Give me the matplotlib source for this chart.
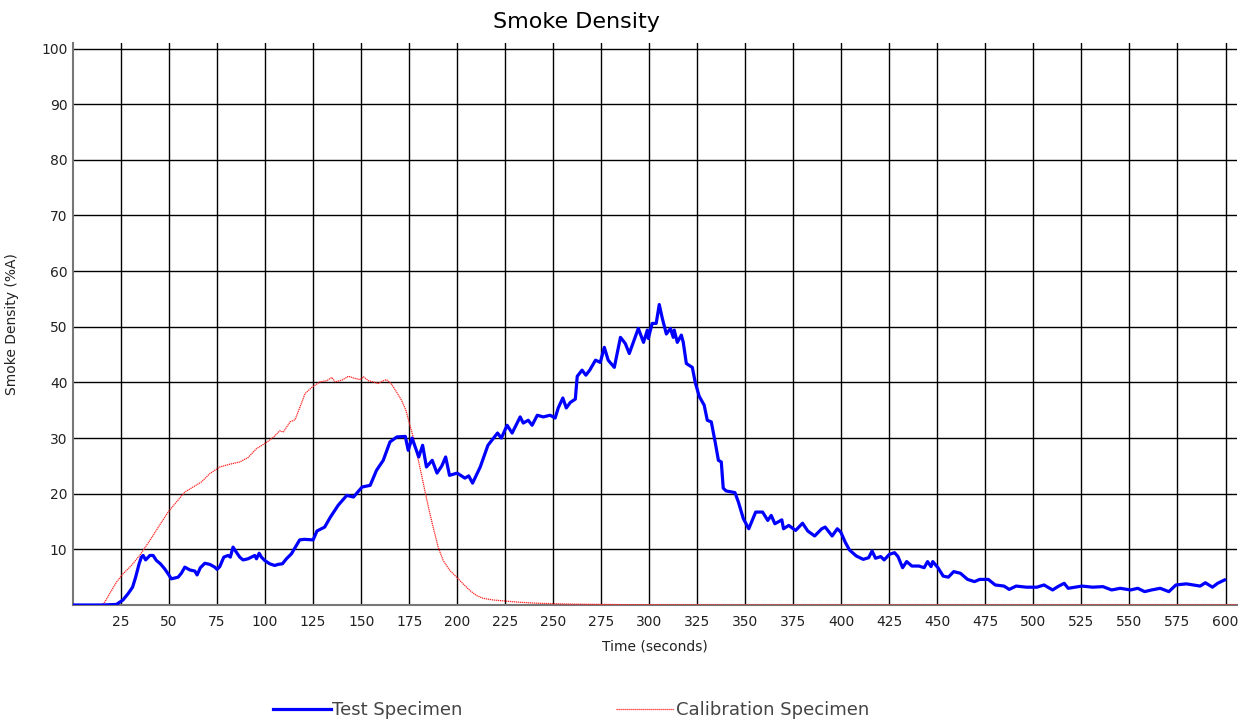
import matplotlib
matplotlib.use('Agg')
import matplotlib.pyplot as plt

# Test specimen curve (time in s, smoke density %A)
test_t = [0, 15.6, 22.6, 26, 28.6, 31, 32.6, 34.4, 35.6, 36.5, 37.8, 40, 41.7, 43.4, 45.5, 47.7,
          49.5, 51.2, 54.7, 56.4, 58.2, 60.8, 63.4, 64.6, 66.3, 68.6, 71.2, 73.8, 75, 76.4, 78.5,
          80.7, 81.9, 83.3, 85, 86.8, 88.5, 91.1, 92.9, 94.6, 95.5, 96.9, 98.1, 99.8, 102.4, 105,
          106.8, 109, 111.1, 113.7, 118, 120.4, 125, 127, 131, 134, 138, 142.5, 146, 150.5, 154.7,
          158, 161.5, 165, 168.6, 173, 174.5, 176.5, 180, 182, 184, 187, 189.5, 192, 194, 196, 200,
          204, 206, 208, 212, 216, 221, 223, 226, 228.6, 232.8, 234.4, 237, 239, 241.7, 244.8,
          248.4, 251, 252.6, 255, 256.8, 258.9, 261.5, 262.5, 265, 267, 269, 272, 274.5, 276.6,
          278.6, 281.8, 285, 287.5, 289.6, 291.7, 294.3, 297, 299, 299.5, 301.5, 303.6, 305.2,
          306.8, 308.9, 311, 312.5, 313, 314.6, 316.7, 317.7, 319.3, 322.4, 324, 326, 328.6, 330.2,
          332.3, 334.4, 336, 337.5, 338.5, 340, 344.6, 346.4, 349, 351.8, 353.6, 355.4, 359, 361.7,
          363.5, 365.4, 369, 369.9, 372.6, 376.2, 379.8, 382.5, 386.1, 389.8, 391.6, 395.2, 397.9,
          399.7, 402, 404.2, 407.8, 411.4, 414.2, 416, 417.8, 420.5, 422.3, 425, 427.7, 429.5,
          431.9, 434, 436.7, 440.4, 443.1, 444.9, 446.7, 447.6, 450.3, 453, 455.7, 458.5, 462,
          465.7, 469.3, 472, 476.5, 480.1, 484.7, 487.4, 491, 496.4, 501.8, 505.5, 510, 512.7, 516,
          518.1, 525.3, 530.8, 536.2, 540.7, 545.2, 550.6, 554.3, 557.9, 561.5, 566, 570.5, 574.2,
          579.6, 583.2, 586.8, 589.5, 593.2, 595.9, 599.5]
test_v = [0, 0, 0.1, 0.9, 2, 3.2, 5, 7.4, 8.6, 8.9, 8.1, 8.9, 8.9, 8.0, 7.4, 6.5,
          5.6, 4.7, 5.0, 5.7, 6.8, 6.3, 6.1, 5.4, 6.7, 7.5, 7.3, 6.8, 6.4, 6.9, 8.6,
          8.9, 8.6, 10.4, 9.5, 8.6, 8.1, 8.3, 8.6, 8.9, 8.3, 9.3, 8.6, 8.0, 7.4, 7.1,
          7.3, 7.4, 8.3, 9.2, 11.7, 11.8, 11.7, 13.3, 14.0, 15.8, 17.9, 19.7, 19.4, 21.2, 21.5,
          24.2, 26, 29.3, 30.2, 30.3, 27.8, 30, 26.6, 28.7, 24.8, 26, 23.7, 25, 26.6, 23.3, 23.7,
          22.8, 23.2, 21.9, 24.8, 28.7, 30.9, 30, 32.3, 30.9, 33.8, 32.7, 33.2, 32.3, 34.1, 33.8,
          34.1, 33.6, 35.4, 37.2, 35.4, 36.4, 37, 41.1, 42.2, 41.3, 42.2, 44, 43.6, 46.3,
          44, 42.7, 48.1, 47, 45.2, 47.2, 49.7, 47.2, 49.4, 47.9, 50.6, 50.6, 54.0,
          51.5, 48.7, 49.7, 48.1, 49.4, 47.2, 48.5, 47.2, 43.4, 42.7, 39.9, 37.5, 35.9, 33.2,
          32.9, 29.1, 26, 25.7, 21, 20.5, 20.2, 18.5, 15.5, 13.7, 15.2, 16.7, 16.7, 15.2,
          16.1, 14.6, 15.3, 13.7, 14.3, 13.4, 14.7, 13.3, 12.4, 13.7, 14, 12.4, 13.7,
          13.1, 11.3, 9.9, 8.8, 8.2, 8.5, 9.7, 8.4, 8.7, 8.1, 9.1, 9.4, 8.7,
          6.7, 7.8, 7.0, 7.0, 6.7, 7.8, 6.9, 7.8, 6.7, 5.2, 5.0, 6.0, 5.7,
          4.6, 4.2, 4.6, 4.6, 3.6, 3.4, 2.8, 3.4, 3.2, 3.2, 3.6, 2.7, 3.3, 3.9,
          3.0, 3.4, 3.2, 3.3, 2.7, 3.0, 2.7, 3.0, 2.4, 2.7, 3.0, 2.4, 3.6,
          3.8, 3.6, 3.4, 4.0, 3.2, 3.9, 4.5]

# Calibration specimen curve
cal_t = [0, 14.8, 16.5, 19, 22.6, 26, 30.4, 34.7, 40, 45, 49.5, 53.8, 58.2, 62.5, 66.8, 71.2,
         76.4, 81.6, 86.8, 91.1, 95.5, 99.8, 104.2, 107.6, 109.5, 113, 115.6, 118.2, 120.8, 124.3,
         128.6, 132.1, 134.7, 136.5, 139.9, 143.4, 146.9, 149.5, 151.2, 153.8, 156.2, 158.8, 161.5,
         163.2, 165.8, 168.4, 171, 173.3, 175.4, 177.1, 179.2, 181.5, 183.5, 185.8, 187.9, 190.1,
         192.7, 196.2, 199.7, 203.1, 206.6, 210.1, 213.5, 218.8, 222.2, 232, 243, 260, 290, 320,
         340, 606]
cal_v = [0, 0, 0.5, 2, 4.1, 5.6, 7.1, 8.9, 11.6, 14.3, 16.7, 18.5, 20.3, 21.2, 22.1, 23.6,
         24.8, 25.3, 25.7, 26.5, 28.1, 29, 30.1, 31.3, 31.1, 32.9, 33.3, 35.6, 38, 39.1,
         40.1, 40.3, 40.9, 40.1, 40.4, 41.1, 40.7, 40.5, 41, 40.3, 40.1, 39.8, 40.3,
         40.5, 39.7, 38.3, 36.8, 35, 32.3, 30.2, 26.9, 23.3, 20, 16.4, 13.4, 10.4,
         8, 6.2, 5, 3.8, 2.6, 1.7, 1.2, 0.9, 0.8, 0.5, 0.3, 0.15, 0.05, 0.02,
         0, 0]

x_ticks = list(range(25, 601, 25))
y_ticks = list(range(10, 101, 10))

fig = plt.figure(figsize=(12.44, 7.21), dpi=100)
ax = fig.add_axes([0.0587, 0.1609, 0.9357, 0.7795])

ax.plot(cal_t, cal_v, color='#ff2020', lw=0.9, ls=(0, (1, 0.6)), label='Calibration Specimen', zorder=3)
ax.plot(test_t, test_v, color='#0000ff', lw=2.3, label='Test Specimen', zorder=4)

ax.set_xlim(0, 606)
ax.set_ylim(0, 101)
ax.set_xticks(x_ticks)
ax.set_yticks(y_ticks)
ax.tick_params(length=0, labelsize=10, colors='#222222')
ax.tick_params(axis='y', pad=4)
ax.tick_params(axis='x', pad=7)
ax.grid(True, color='black', lw=1)
ax.set_axisbelow(True)
for s in ['top', 'right']:
    ax.spines[s].set_visible(False)
for s in ['left', 'bottom']:
    ax.spines[s].set_color('#777777')
    ax.spines[s].set_linewidth(1.5)

cond = ['Liberation Sans Narrow', 'DejaVu Sans']
ax.set_xlabel('Time (seconds)', fontsize=10, family=cond, labelpad=8, color='#222222')
ax.set_ylabel('Smoke Density (%A)', fontsize=10, family=cond, labelpad=16, color='#222222')

fig.text(0.463, 0.97, 'Smoke Density', fontsize=16, ha='center', va='center')

h, l = ax.get_legend_handles_labels()
leg = fig.legend(h[::-1], l[::-1], loc='center', bbox_to_anchor=(0.459, 0.015), ncol=2, frameon=False,
                 fontsize=13, handlelength=3.2, handletextpad=0.1, columnspacing=8.5)
for t in leg.get_texts():
    t.set_color('#444444')

plt.savefig('out.png', dpi=100)
